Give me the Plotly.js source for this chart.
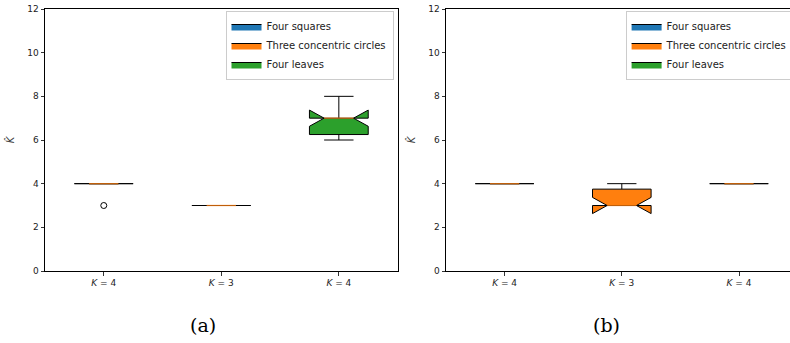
<!DOCTYPE html>
<html>
<head>
<meta charset="utf-8">
<script src="https://cdn.plot.ly/plotly-3.0.1.min.js"></script>
<style>
html, body { margin: 0; padding: 0; overflow: hidden; background: #fff; }
#chart { width: 810px; height: 343px; }
</style>
</head>
<body>
<div id="chart"></div>
<script>
// ---- data ----
const positions = [1, 2, 3];
const tickLabels = ['<i>K</i> = 4', '<i>K</i> = 3', '<i>K</i> = 4'];
const seriesNames = ['Four squares', 'Three concentric circles', 'Four leaves'];
const seriesColors = ['#1f77b4', '#ff7f0e', '#2ca02c'];
const yTicks = [0, 2, 4, 6, 8, 10, 12];

// panel (a)
const aQ1 = [4, 3, 6.25];
const aMedian = [4, 3, 7];
const aQ3 = [4, 3, 7];
const aLowerWhisker = [4, 3, 6];
const aUpperWhisker = [4, 3, 8];
const aNotchSpan = [0, 0, 0.37];
const aOutlierX = [1];
const aOutlierY = [3];

// panel (b)
const bQ1 = [4, 3, 4];
const bMedian = [4, 3, 4];
const bQ3 = [4, 3.75, 4];
const bLowerWhisker = [4, 3, 4];
const bUpperWhisker = [4, 4, 4];
const bNotchSpan = [0, 0.37, 0];
const bOutlierX = [];
const bOutlierY = [];

// ---- layout constants ----
const W = 810, H = 343;
const BOX_W = 0.5;     // box width (data units)
const CAP_W = 0.25;    // cap width (data units)
const px = v => v / W;
const py = v => (H - v) / H;

function panelTraces(q1, med, q3, lo, hi, notch, ox, oy, xa, ya, legendId) {
  const traces = [];
  // notched boxes (same geometry as matplotlib's bxp)
  for (let i = 0; i < positions.length; i++) {
    const p = positions[i];
    const L = p - BOX_W / 2, R = p + BOX_W / 2;
    const nL = p - BOX_W / 4, nR = p + BOX_W / 4;
    const cilo = med[i] - notch[i], cihi = med[i] + notch[i];
    traces.push({
      type: 'scatter', mode: 'lines', fill: 'toself',
      name: seriesNames[i],
      x: [L, R, R, nR, R, R, L, L, nL, L, L],
      y: [q1[i], q1[i], cilo, med[i], cihi, q3[i], q3[i], cihi, med[i], cilo, q1[i]],
      fillcolor: seriesColors[i],
      line: { color: '#000000', width: 1 },
      xaxis: xa, yaxis: ya, legend: legendId, showlegend: true,
      hoverinfo: 'skip'
    });
  }
  // whiskers and caps
  const wx = [], wy = [];
  for (let i = 0; i < positions.length; i++) {
    const p = positions[i];
    wx.push(p, p, null, p, p, null,
            p - CAP_W / 2, p + CAP_W / 2, null, p - CAP_W / 2, p + CAP_W / 2, null);
    wy.push(q1[i], lo[i], null, q3[i], hi[i], null,
            lo[i], lo[i], null, hi[i], hi[i], null);
  }
  traces.push({
    type: 'scatter', mode: 'lines', x: wx, y: wy,
    line: { color: '#000000', width: 1 },
    showlegend: false, hoverinfo: 'skip', xaxis: xa, yaxis: ya
  });
  // median lines (orange)
  const mx = [], my = [];
  for (let i = 0; i < positions.length; i++) {
    mx.push(positions[i] - BOX_W / 4, positions[i] + BOX_W / 4, null);
    my.push(med[i], med[i], null);
  }
  traces.push({
    type: 'scatter', mode: 'lines', x: mx, y: my,
    line: { color: '#ff7f0e', width: 1.3 }, opacity: 0.75,
    showlegend: false, hoverinfo: 'skip', xaxis: xa, yaxis: ya
  });
  // fliers
  traces.push({
    type: 'scatter', mode: 'markers', x: ox, y: oy,
    marker: { symbol: 'circle-open', size: 6, color: '#000000', line: { width: 1 } },
    showlegend: false, hoverinfo: 'skip', xaxis: xa, yaxis: ya
  });
  return traces;
}

const data = [].concat(
  panelTraces(aQ1, aMedian, aQ3, aLowerWhisker, aUpperWhisker, aNotchSpan, aOutlierX, aOutlierY, 'x', 'y', 'legend'),
  panelTraces(bQ1, bMedian, bQ3, bLowerWhisker, bUpperWhisker, bNotchSpan, bOutlierX, bOutlierY, 'x2', 'y2', 'legend2')
);

const tickFont = { family: 'DejaVu Sans', size: 9, color: '#222' };
function xAxis(domain, anchor) {
  return {
    domain: domain, anchor: anchor, range: [0.5, 3.5],
    tickvals: positions, ticktext: tickLabels, tickfont: tickFont,
    ticks: 'outside', ticklen: 3.5, tickwidth: 0.8, tickcolor: '#000',
    showline: true, mirror: true, linecolor: '#000', linewidth: 1,
    showgrid: false, zeroline: false, automargin: false
  };
}
function yAxis(anchor) {
  return {
    domain: [py(271), py(9)], anchor: anchor, range: [0, 12],
    tickvals: yTicks, tickfont: tickFont,
    ticks: 'outside', ticklen: 3.5, tickwidth: 0.8, tickcolor: '#000',
    showline: true, mirror: true, linecolor: '#000', linewidth: 1,
    showgrid: false, zeroline: false, automargin: false,
    title: { text: '<i>K\u0302</i>', font: { family: 'DejaVu Sans', size: 10, color: '#444' }, standoff: 10 }
  };
}
function legendBox(rightPx) {
  return {
    x: px(rightPx), xanchor: 'right', y: py(11), yanchor: 'top',
    bgcolor: 'rgba(255,255,255,0.9)', bordercolor: '#cccccc', borderwidth: 1,
    font: { family: 'DejaVu Sans', size: 10, color: '#222' },
    traceorder: 'normal', tracegroupgap: 0, itemwidth: 30
  };
}

const layout = {
  width: W, height: H,
  margin: { l: 0, r: 0, t: 0, b: 0, pad: 0 },
  paper_bgcolor: '#ffffff', plot_bgcolor: '#ffffff',
  showlegend: true,
  xaxis: xAxis([px(45), px(397.6)], 'y'),
  yaxis: yAxis('x'),
  xaxis2: xAxis([px(446), px(797.6)], 'y2'),
  yaxis2: yAxis('x2'),
  legend: legendBox(393.5),
  legend2: legendBox(793.6),
  annotations: [
    { text: '(a)', xref: 'paper', yref: 'paper', x: px(203), y: py(325), xanchor: 'center', yanchor: 'middle',
      showarrow: false, font: { family: 'DejaVu Serif', size: 19, color: '#000' } },
    { text: '(b)', xref: 'paper', yref: 'paper', x: px(606), y: py(325), xanchor: 'center', yanchor: 'middle',
      showarrow: false, font: { family: 'DejaVu Serif', size: 19, color: '#000' } }
  ]
};

Plotly.newPlot('chart', data, layout, { staticPlot: true, displayModeBar: false });
</script>
</body>
</html>
